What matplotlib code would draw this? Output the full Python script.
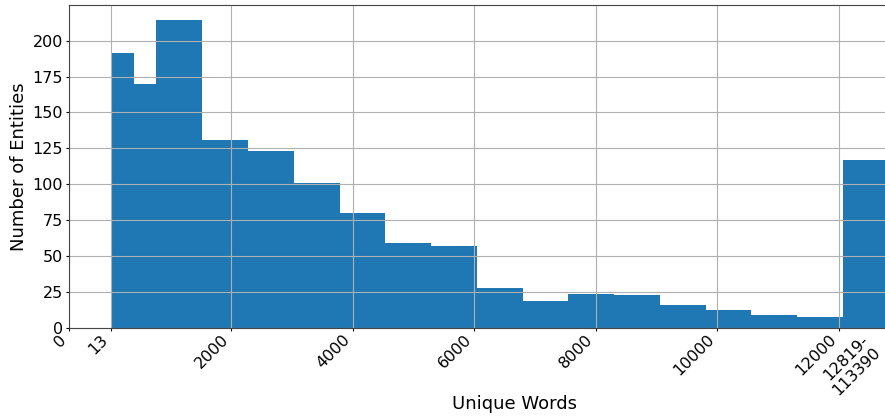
import matplotlib
matplotlib.use("Agg")
import matplotlib.pyplot as plt
import matplotlib.transforms as mtransforms
import numpy as np

# Histogram of unique word counts per entity (last bin collects the long tail)
bin_edges = [13, 389.7, 766.3, 1519.6, 2272.9, 3026.2, 3779.5, 4532.8, 5286.1,
             6039.4, 6792.7, 7546.0, 8299.3, 9052.6, 9805.9, 10559.2, 11312.5,
             12065.8, 12819]
counts = [191, 170, 214, 131, 123, 101, 80, 59, 57, 28, 19, 24, 23, 16, 13, 9, 8, 117]

tick_values = [-668, 13, 2000, 4000, 6000, 8000, 10000, 12000, 12819]
tick_labels = ["0", "13", "2000", "4000", "6000", "8000", "10000", "12000",
               "12819-\n113390"]

fig = plt.figure(figsize=(8.85, 4.16), dpi=100)
ax = fig.add_axes([0.0783, 0.2108, 1.007, 0.7772])

edges = np.array(bin_edges)
ax.bar(edges[:-1], counts, width=np.diff(edges), align="edge",
       color="#1f77b4", linewidth=0)

ax.set_xlim(-668, 14000)
ax.set_ylim(0, max(counts) * 1.05)
ax.grid(True, color="#b0b0b0", linewidth=0.8)

ax.set_xticks(tick_values)
ax.set_xticklabels(tick_labels, rotation=45, ha="right", fontsize=11.5)
ax.set_yticks(range(0, 201, 25))
ax.tick_params(axis="y", labelsize=11.5, length=2.2, pad=2.5)
ax.tick_params(axis="x", length=2.2, pad=0.5)

# nudge the tail-bin label so it stays inside the canvas
last = ax.get_xticklabels()[-1]
last.set_transform(last.get_transform() +
                   mtransforms.ScaledTranslation(-5 / 100, 0, fig.dpi_scale_trans))

for s in ax.spines.values():
    s.set_color("#444444")

ax.set_xlabel("Unique Words", fontsize=13, labelpad=-2)
ax.set_ylabel("Number of Entities", fontsize=13, labelpad=3)

fig.savefig("out.png", dpi=100)
